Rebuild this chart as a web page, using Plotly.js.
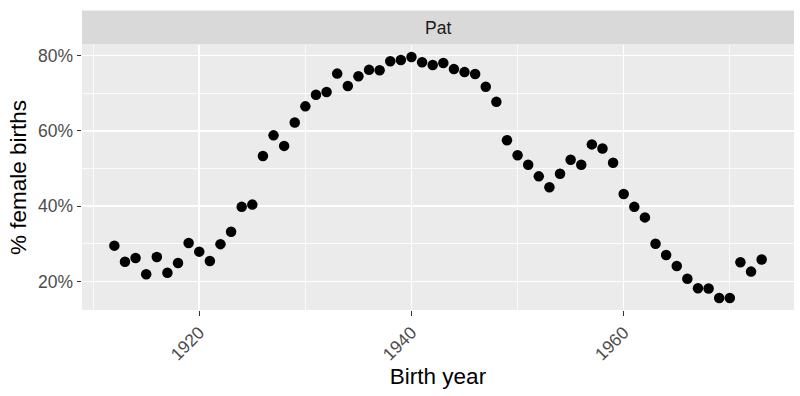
<!DOCTYPE html>
<html>
<head>
<meta charset="utf-8">
<script src="https://cdn.plot.ly/plotly-3.0.1.min.js"></script>
<style>html,body{margin:0;padding:0;background:#fff;}#chart{width:800px;height:396px;}</style>
</head>
<body>
<div id="chart"></div>
<script>
const years = [1912,1913,1914,1915,1916,1917,1918,1919,1920,1921,1922,1923,1924,1925,1926,1927,1928,1929,1930,1931,1932,1933,1934,1935,1936,1937,1938,1939,1940,1941,1942,1943,1944,1945,1946,1947,1948,1949,1950,1951,1952,1953,1954,1955,1956,1957,1958,1959,1960,1961,1962,1963,1964,1965,1966,1967,1968,1969,1970,1971,1972,1973];
const pctFemale = [29.5,25.2,26.2,21.9,26.5,22.3,24.9,30.2,27.9,25.4,29.9,33.2,39.8,40.4,53.3,58.8,56.0,62.2,66.5,69.6,70.3,75.2,71.9,74.5,76.2,76.1,78.5,78.8,79.6,78.2,77.5,78.0,76.4,75.6,75.1,71.7,67.7,57.5,53.5,51.0,47.9,45.0,48.6,52.3,51.0,56.4,55.3,51.5,43.2,39.8,37.0,30.0,27.0,24.1,20.7,18.2,18.1,15.6,15.6,25.1,22.6,25.8];
const facetLabel = "Pat";
const xTicks = [1920,1940,1960];
const xMinorTicks = [1910,1930,1950,1970];
const yTicks = [20,40,60,80];
const yTickLabels = ["20%","40%","60%","80%"];
const yMinorTicks = [30,50,70];

const yMin = Math.min(...pctFemale), yMax = Math.max(...pctFemale);
const yPad = (yMax - yMin) * 0.05;
const xMin = Math.min(...years), xMax = Math.max(...years);
const xPad = (xMax - xMin) * 0.05;

const panelH = 396 - 44.5 - 86;

const trace = {
  x: years, y: pctFemale, type: 'scatter', mode: 'markers',
  marker: {color: '#000000', size: 10.5, line: {width: 0}},
  hoverinfo: 'x+y'
};

const layout = {
  width: 800, height: 396,
  margin: {l: 82, r: 6, t: 44.5, b: 86},
  paper_bgcolor: '#ffffff', plot_bgcolor: '#EBEBEB',
  font: {family: 'Liberation Sans, Arial, sans-serif'},
  showlegend: false,
  xaxis: {
    range: [xMin - xPad, xMax + xPad],
    tickvals: xTicks, ticktext: xTicks.map(String),
    tickangle: -45,
    ticks: 'outside', ticklen: 4.5, tickwidth: 1.2, tickcolor: '#333333',
    tickfont: {size: 17.5, color: '#4D4D4D'},
    showgrid: true, gridcolor: '#FFFFFF', gridwidth: 1.6,
    minor: {tickvals: xMinorTicks, showgrid: true, gridcolor: '#FFFFFF', gridwidth: 0.8, ticks: ''},
    zeroline: false, showline: false, automargin: false,
    title: {text: 'Birth year', font: {size: 22.5, color: '#000000'}, standoff: 3}
  },
  yaxis: {
    range: [yMin - yPad, yMax + yPad],
    tickvals: yTicks, ticktext: yTickLabels,
    ticks: 'outside', ticklen: 4.5, tickwidth: 1.2, tickcolor: '#333333',
    tickfont: {size: 17.5, color: '#4D4D4D'},
    showgrid: true, gridcolor: '#FFFFFF', gridwidth: 1.6,
    minor: {tickvals: yMinorTicks, showgrid: true, gridcolor: '#FFFFFF', gridwidth: 0.8, ticks: ''},
    zeroline: false, showline: false, automargin: false,
    title: {text: '% female births', font: {size: 22.5, color: '#000000'}, standoff: 5}
  },
  shapes: [{
    type: 'rect', xref: 'paper', yref: 'paper',
    x0: 0, x1: 1, y0: 1 + 0.5/panelH, y1: 1 + 34.5/panelH,
    fillcolor: '#D9D9D9', line: {width: 0}, layer: 'below'
  }],
  annotations: [{
    text: facetLabel, xref: 'paper', yref: 'paper',
    x: 0.5, y: 1 + 17.5/panelH, xanchor: 'center', yanchor: 'middle',
    showarrow: false, font: {size: 17.5, color: '#1A1A1A'}
  }]
};

Plotly.newPlot('chart', [trace], layout, {displayModeBar: false, staticPlot: true});
</script>
</body>
</html>
